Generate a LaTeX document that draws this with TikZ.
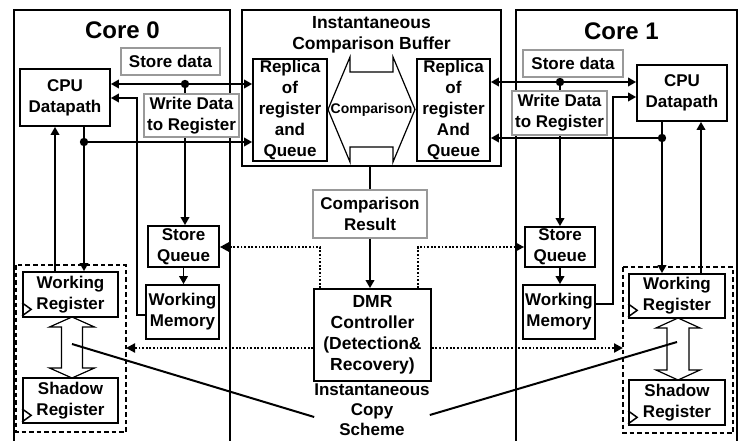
\documentclass[tikz,border=0pt]{standalone}
\usepackage{fontspec}
\setmainfont{Liberation Sans}
\usetikzlibrary{arrows.meta}
\newcommand\txt{\bfseries\fontsize{17}{21}\selectfont}
\tikzset{
  blk/.style={draw=black, line width=1.7pt, fill=white, inner sep=0pt, align=center, font=\txt},
  gry/.style={blk, draw=black!40, line width=1.4pt},
  core/.style={draw=black, line width=1.2pt},
  wire/.style={line width=1.8pt},
  arr/.style={wire, -{Triangle[length=8pt,width=8.5pt]}},
  darr/.style={wire, {Triangle[length=8pt,width=8.5pt]}-{Triangle[length=8pt,width=8.5pt]}},
  dotarr/.style={line width=2.2pt, dash pattern=on 1.8pt off 1.8pt, -{Triangle[length=9pt,width=9pt]}},
  junction/.style={fill=black, draw=none},
  regframe/.style={draw=black, line width=1.3pt, dash pattern=on 4.5pt off 3pt},
  hollow/.style={draw=black, line width=1.2pt, fill=white},
  clk/.style={draw=black, line width=1.5pt},
  title/.style={font=\bfseries\fontsize{24}{28}\selectfont, inner sep=0pt},
  plain/.style={font=\txt, align=center, inner sep=0pt}
}
\begin{document}
\begin{tikzpicture}[x=1pt,y=-1pt]
\useasboundingbox (0,0) rectangle (742,441);
\fill[white] (0,0) rectangle (742,441);
\begin{scope}
\clip (0,0) rectangle (742,441);

% the two cores
\draw[core] (14,10) rectangle (230,450);
\draw[core] (516,10) rectangle (737,450);
\node[title] (core0) at (122.5,30) {Core 0};
\node[title] (core1) at (621.5,31) {Core 1};

% comparison buffer frame
\node[draw=black, line width=1.6pt, minimum width=259pt, minimum height=156pt, inner sep=0pt] (icb) at (371.5,88) {};
\node[plain, font=\bfseries\fontsize{17.5}{21}\selectfont] (icbtitle) at (371.5,34.5) {Instantaneous\\Comparison Buffer};

% junction points and bends
\coordinate (jA) at (185,84);
\coordinate (jB) at (84,142);
\coordinate (jC) at (560,82);
\coordinate (jD) at (662,138);
\coordinate (bL) at (137,315);
\coordinate (bR) at (613,304);
\coordinate (upL) at (55,0);
\coordinate (upR) at (701,0);
\coordinate (dl) at (320,247);
\coordinate (dr) at (418,247);
\coordinate (dy) at (0,348);

% blocks
\node[blk, minimum width=90pt, minimum height=57pt] (cpuL) at (65,97.5) {CPU\\Datapath};
\node[blk, minimum width=74pt, minimum height=102pt] (repL) at (290,110) {Replica\\of\\register\\and\\Queue};
\node[blk, minimum width=73pt, minimum height=102pt] (repR) at (453.5,110) {Replica\\of\\register\\And\\Queue};
\node[blk, minimum width=90pt, minimum height=56pt] (cpuR) at (682,93) {CPU\\Datapath};
\node[blk, minimum width=71pt, minimum height=41pt] (sqL) at (183.5,246.5) {Store\\Queue};
\node[blk, minimum width=73pt, minimum height=54pt] (wmL) at (182.5,312) {Working\\Memory};
\node[blk, minimum width=70pt, minimum height=40pt] (sqR) at (560,247) {Store\\Queue};
\node[blk, minimum width=72pt, minimum height=54pt] (wmR) at (559,312) {Working\\Memory};
\node[blk, minimum width=117pt, minimum height=92pt, font=\bfseries\fontsize{17.5}{21}\selectfont] (dmr) at (372.5,335) {DMR\\Controller\\(Detection\&\\Recovery)};
\node[gry, minimum width=114pt, minimum height=48pt] (cres) at (370,214) {Comparison\\Result};

% register frames
\draw[regframe] (16,265) rectangle (126,432);
\draw[regframe] (623,267) rectangle (733,433);
\coordinate (frL) at (126,348);
\coordinate (frR) at (623,348);
\node[blk, minimum width=95pt, minimum height=45pt] (wrL) at (70.5,294.5) {Working\\Register};
\node[blk, minimum width=95pt, minimum height=45pt] (shL) at (70.5,400.5) {Shadow\\Register};
\node[blk, minimum width=96pt, minimum height=44pt] (wrR) at (677,296) {Working\\Register};
\node[blk, minimum width=96pt, minimum height=45pt] (shR) at (677,402.5) {Shadow\\Register};

% clock marks
\draw[clk] (wrL.south west) ++(0,-2) -- ++(9,-6.5) -- ++(-9,-6.5);
\draw[clk] (shL.south west) ++(0,-2) -- ++(9,-6.5) -- ++(-9,-6.5);
\draw[clk] (wrR.south west) ++(0,-2) -- ++(9,-6.5) -- ++(-9,-6.5);
\draw[clk] (shR.south west) ++(0,-2) -- ++(9,-6.5) -- ++(-9,-6.5);

% copy arrows between working and shadow registers
\draw[hollow] (72,317) -- (94.5,327) -- (82.5,327) -- (82.5,368) -- (94.5,368) -- (72,378)
  -- (49.5,368) -- (61.5,368) -- (61.5,327) -- (49.5,327) -- cycle;
\draw[hollow] (678,318) -- (700,328) -- (689,328) -- (689,370) -- (700,370) -- (678,380)
  -- (656,370) -- (667,370) -- (667,328) -- (656,328) -- cycle;

% comparison arrow
\draw[line width=1.2pt] (328,109.5) -- (350,57) -- (350,72) -- (393,72) -- (393,57) -- (415,109.5)
  -- (393,162) -- (393,147) -- (350,147) -- (350,162) -- cycle;
\node[plain, font=\bfseries\fontsize{14}{16}\selectfont] (cmp) at (371.5,109.5) {Comparison};

% core 0 wiring
\draw[darr] (cpuL.east |- jA) -- (repL.west |- jA);
\draw[arr] (jA) -- (jA |- sqL.north);
\fill[junction] (jA) circle (4.2pt);
\draw[arr] (wmL.west |- bL) -- (bL) -- (bL |- 0,98) -- (cpuL.east |- 0,98);
\draw[wire] (cpuL.south -| jB) -- (jB);
\draw[arr] (jB) -- (repL.west |- jB);
\draw[arr] (jB) -- (jB |- wrL.north);
\fill[junction] (jB) circle (4.2pt);
\draw[arr] (wrL.north -| upL) -- (cpuL.south -| upL);
\draw[arr] (sqL.south) -- (sqL.south |- wmL.north);

% core 1 wiring
\draw[darr] (repR.east |- jC) -- (cpuR.west |- jC);
\draw[arr] (jC) -- (jC |- sqR.north);
\fill[junction] (jC) circle (4.2pt);
\draw[arr] (wmR.east |- bR) -- (bR) -- (bR |- 0,97) -- (cpuR.west |- 0,97);
\draw[wire] (cpuR.south -| jD) -- (jD);
\draw[arr] (jD) -- (repR.east |- jD);
\draw[arr] (jD) -- (jD |- wrR.north);
\fill[junction] (jD) circle (4.2pt);
\draw[arr] (wrR.north -| upR) -- (cpuR.south -| upR);
\draw[arr] (sqR.south) -- (sqR.south |- wmR.north);

% labels on the data paths
\node[gry, minimum width=99pt, minimum height=27pt] (sdL) at (170.5,61.5) {Store data};
\node[gry, minimum width=95pt, minimum height=43pt] (wdL) at (191.5,115.5) {Write Data\\to Register};
\node[gry, minimum width=100pt, minimum height=27pt] (sdR) at (573,63.5) {Store data};
\node[gry, minimum width=95pt, minimum height=44pt] (wdR) at (559.5,113) {Write Data\\to Register};

% comparison result and controller
\draw[wire] (icb.south -| cres.north) -- (cres.north);
\draw[arr] (cres.south) -- (cres.south |- dmr.north);
\draw[dotarr] (dmr.north -| dl) -- (dl) -- (sqL.east |- dl);
\draw[dotarr] (dmr.north -| dr) -- (dr) -- (sqR.west |- dr);
\draw[dotarr] (dmr.west |- dy) -- (frL);
\draw[dotarr] (dmr.east |- dy) -- (frR);

% instantaneous copy scheme
\node[plain, font=\bfseries\fontsize{17}{20}\selectfont] (copy) at (372,410) {Instantaneous\\Copy\\Scheme};
\coordinate (cpL) at (72,344);
\coordinate (cpR) at (677,342);
\draw[line width=2pt] (cpL) -- (copy.west |- 0,417);
\draw[line width=2pt] (copy.east |- 0,415) -- (cpR);
\end{scope}
\end{tikzpicture}
\end{document}
